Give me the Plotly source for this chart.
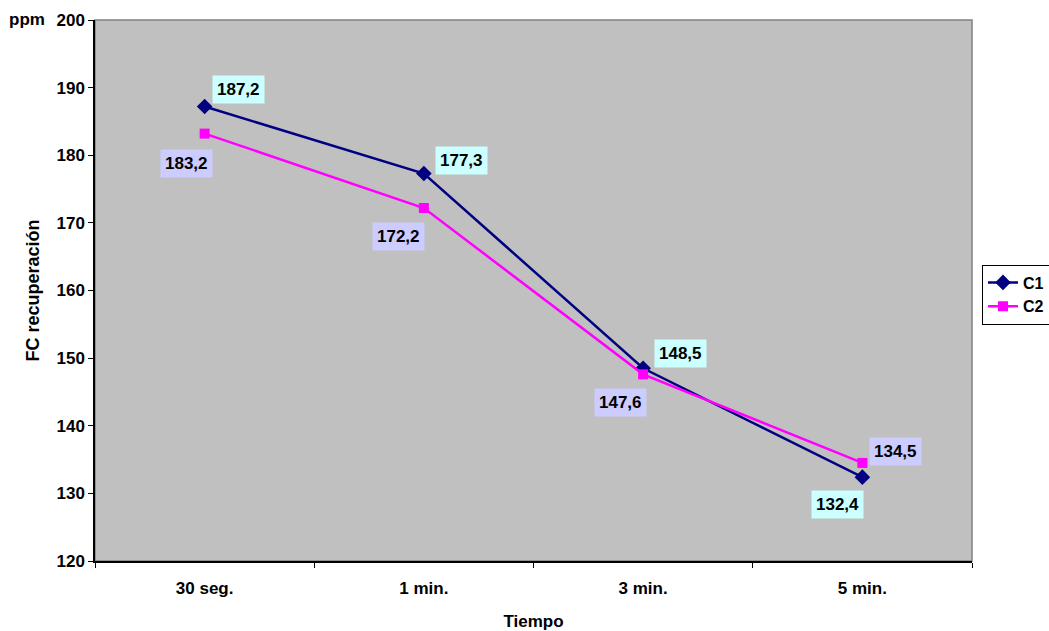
import plotly.graph_objects as go

categories = ["30 seg.", "1 min.", "3 min.", "5 min."]
c1_values = [187.2, 177.3, 148.5, 132.4]
c2_values = [183.2, 172.2, 147.6, 134.5]
y_ticks = [120, 130, 140, 150, 160, 170, 180, 190, 200]

FONT = "Liberation Sans, Arial, sans-serif"
FS = 17

fig = go.Figure()
fig.add_trace(go.Scatter(
    x=categories, y=c1_values, name="C1", mode="lines+markers",
    line=dict(color="#000080", width=2.5),
    marker=dict(symbol="diamond", size=12, color="#000080"),
))
fig.add_trace(go.Scatter(
    x=categories, y=c2_values, name="C2", mode="lines+markers",
    line=dict(color="#FF00FF", width=2.5),
    marker=dict(symbol="square", size=10, color="#FF00FF"),
))

def fmt(v):
    return f"{v:.1f}".replace(".", ",")

# label offsets (pixels) for each point
c1_offsets = [(34, -17), (38, -13), (37, -15), (-25, 27)]
c2_offsets = [(-18, 30), (-25, 28), (-23, 28), (33, -11)]

for cat, v, (ax, ay) in zip(categories, c1_values, c1_offsets):
    fig.add_annotation(x=cat, y=v, xref="x", yref="y", text=fmt(v), showarrow=True,
                       arrowcolor="rgba(0,0,0,0)", ax=ax, ay=ay,
                       bgcolor="#CCFFFF", borderpad=4,
                       font=dict(family=FONT, size=FS, color="black", weight="bold"))
for cat, v, (ax, ay) in zip(categories, c2_values, c2_offsets):
    fig.add_annotation(x=cat, y=v, xref="x", yref="y", text=fmt(v), showarrow=True,
                       arrowcolor="rgba(0,0,0,0)", ax=ax, ay=ay,
                       bgcolor="#CCCCFF", borderpad=4,
                       font=dict(family=FONT, size=FS, color="black", weight="bold"))

fig.add_annotation(x=0, y=1, xref="paper", yref="paper", xanchor="right", yanchor="middle",
                   xshift=-48, yshift=1, text="ppm", showarrow=False,
                   font=dict(family=FONT, size=17, color="black", weight="bold"))

fig.add_shape(type="rect", xref="paper", yref="paper", x0=0, y0=0, x1=1, y1=1,
              line=dict(color="#808080", width=1.5), layer="below")

fig.update_layout(
    width=1049, height=631,
    margin=dict(l=95, r=77, t=20, b=70, autoexpand=False),
    paper_bgcolor="white", plot_bgcolor="#C0C0C0",
    font=dict(family=FONT, size=FS, color="black", weight="bold"),
    showlegend=True,
    legend=dict(x=1.0114, y=0.4926, xanchor="left", yanchor="middle",
                bgcolor="white", bordercolor="black", borderwidth=1,
                font=dict(family=FONT, size=16, color="black", weight="bold"),
                tracegroupgap=0, itemwidth=30),
    xaxis=dict(
        type="category", categoryorder="array", categoryarray=categories,
        range=[-0.5, 3.5], showgrid=False, zeroline=False,
        showline=True, linecolor="black", linewidth=1.5,
        ticks="outside", tickson="boundaries", ticklen=5, tickcolor="black",
        ticklabelstandoff=11,
        tickfont=dict(family=FONT, size=FS, color="black", weight="bold"),
        title=dict(text="Tiempo", standoff=18,
                   font=dict(family=FONT, size=FS, color="black", weight="bold")),
    ),
    yaxis=dict(
        range=[120, 200], tickvals=y_ticks, showgrid=False, zeroline=False,
        showline=True, linecolor="black", linewidth=1.5,
        ticks="outside", ticklen=5, tickcolor="black",
        tickfont=dict(family=FONT, size=FS, color="black", weight="bold"),
        title=dict(text="FC recuperación", standoff=12,
                   font=dict(family=FONT, size=18, color="black", weight="bold")),
    ),
)

fig.write_html("out.html")
